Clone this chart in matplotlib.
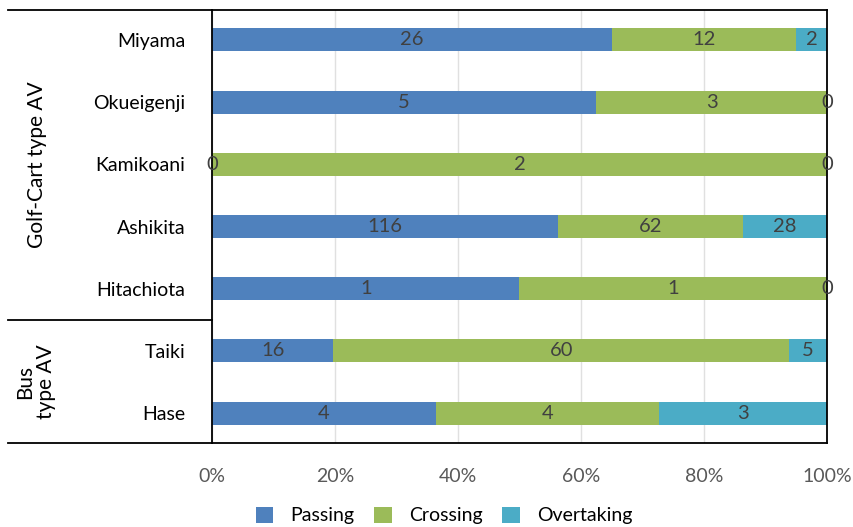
import matplotlib
matplotlib.use("Agg")
import matplotlib.pyplot as plt
from matplotlib.lines import Line2D
import numpy as np

plt.rcParams['font.family'] = ['Lato', 'DejaVu Sans']

sites = ["Miyama", "Okueigenji", "Kamikoani", "Ashikita", "Hitachiota", "Taiki", "Hase"]
passing = [26, 5, 0, 116, 1, 16, 4]
crossing = [12, 3, 2, 62, 1, 60, 4]
overtaking = [2, 0, 0, 28, 0, 5, 3]
series_names = ["Passing", "Crossing", "Overtaking"]
colors = ["#4F81BD", "#9BBB59", "#4BACC6"]


def main():
    counts = np.array([passing, crossing, overtaking], dtype=float)
    totals = counts.sum(axis=0)
    shares = counts / totals

    fig = plt.figure(figsize=(8.54, 5.27), dpi=100)
    ax = fig.add_axes([0.2482, 0.1594, 0.7202, 0.8216])

    y = np.arange(len(sites))
    left = np.zeros(len(sites))
    for i in range(3):
        bars = ax.barh(y, shares[i], left=left, height=0.37, color=colors[i],
                       label=series_names[i], zorder=2)
        ax.bar_label(bars, labels=[str(int(v)) for v in counts[i]],
                     label_type='center', fontsize=14.5, color='#404040')
        left += shares[i]

    ax.set_xlim(0, 1)
    ax.set_ylim(len(sites) - 0.52, -0.48)
    ax.set_xticks(np.linspace(0, 1, 6))
    ax.set_xticklabels([f"{int(v)}%" for v in np.linspace(0, 100, 6)])
    ax.set_yticks(y)
    ax.set_yticklabels(sites)
    ax.tick_params(axis='x', length=0, pad=18, labelsize=14, labelcolor='#595959')
    ax.tick_params(axis='y', length=0, pad=19, labelsize=14, labelcolor='#000000')
    ax.xaxis.grid(True, color='#E0E0E0', lw=1, zorder=0)
    ax.set_axisbelow(True)
    for s in ax.spines.values():
        s.set_color('black')
        s.set_linewidth(1.3)

    # group frame to the left of the bars
    x0 = 8 / 854
    x1 = 0.2482
    top = 0.1594 + 0.8216
    bottom = 0.1594
    split = 1 - 320 / 527
    for yy in (top, bottom, split):
        fig.add_artist(Line2D([x0, x1], [yy, yy], color='black', lw=1.3,
                              transform=fig.transFigure))

    fig.text(37 / 854, (top + split) / 2, "Golf-Cart type AV", rotation=90,
             ha='center', va='center', fontsize=15)
    fig.text(36 / 854, (split + bottom) / 2, "Bus\ntype AV", rotation=90,
             ha='center', va='center', fontsize=15, linespacing=1.05)

    fig.legend(loc='center', bbox_to_anchor=(0.52, 0.022), ncol=3, frameon=False,
               fontsize=14, handlelength=0.9, handleheight=0.9, columnspacing=1.0,
               handletextpad=0.9)

    fig.savefig("out.png", dpi=100)


if __name__ == '__main__':
    main()
